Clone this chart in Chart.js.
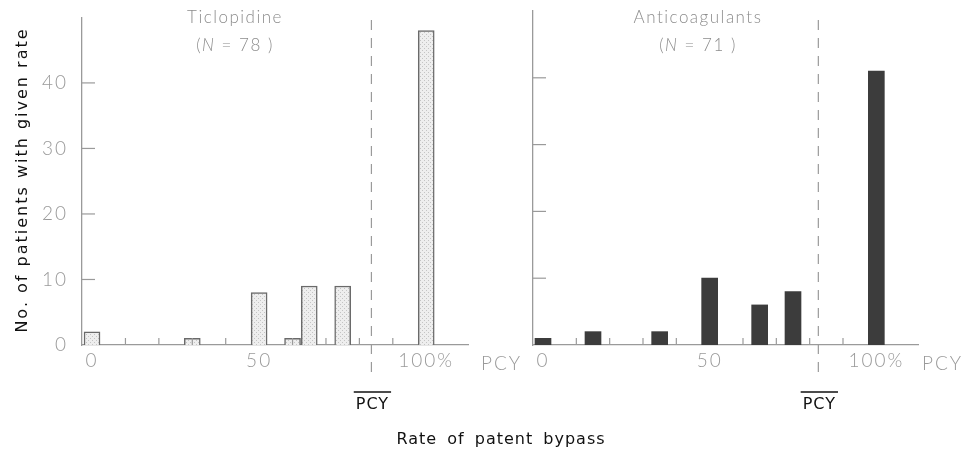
<!DOCTYPE html>
<html>
<head>
<meta charset="utf-8">
<script src="https://cdn.jsdelivr.net/npm/chart.js@4.4.0/dist/chart.umd.min.js"></script>
<style>
  html, body { margin: 0; padding: 0; background: #fff; }
  #wrap { position: relative; width: 962px; height: 451px; }
  canvas { position: absolute; left: 0; top: 0; }
</style>
</head>
<body>
<div id="wrap">
  <canvas id="leftChart" width="962" height="451"></canvas>
  <canvas id="rightChart" width="962" height="451"></canvas>
</div>
<script>
// Ticlopidine panel
const ticloRates = [0, 30, 50, 60, 65, 75, 100]
const ticloCounts = [2, 1, 8, 1, 9, 9, 48]
// Anticoagulant panel
const antiRates = [0, 15, 35, 50, 65, 75, 100]
const antiCounts = [1, 2, 2, 10, 6, 8, 41]
// mean PCY (dashed line) for each panel
const meanPCY = [83.6, 82.6]
const groupNames = ['Ticlopidine', 'Anticoagulants']
const groupN = [78, 71]

const yTicks = [0, 10, 20, 30, 40]
const xLabelVals = [0, 50, 100]
const xMinorTicks = [10, 20, 30, 40, 60, 70, 80, 90]

const axisGrey = '#9a9a9a'
const textGrey = '#8c8c8c'
const tickFont = { family: 'Lato', size: 19, weight: '300' }

function stipple() {
    const c = document.createElement('canvas')
    c.width = 4; c.height = 4
    const g = c.getContext('2d')
    g.fillStyle = '#eeeeee'
    g.fillRect(0, 0, 4, 4)
    g.fillStyle = '#c4c4c4'
    g.fillRect(0, 0, 1, 1)
    g.fillRect(2, 2, 1, 1)
    return g.createPattern(c, 'repeat')
}

// inward ticks, dashed mean line, panel titles and the extra labels
const decor = {
    id: 'decor',
    beforeDraw(chart) {
        chart.ctx.letterSpacing = '2px'
    },
    afterDraw(chart, args, o) {
        const ctx = chart.ctx
        const area = chart.chartArea
        const xs = chart.scales.x
        const ys = chart.scales.y
        ctx.save()
        ctx.strokeStyle = axisGrey
        ctx.lineWidth = 1.2
        yTicks.forEach(v => {
            if (v === 0) return
            const py = ys.getPixelForValue(v)
            ctx.beginPath(); ctx.moveTo(area.left, py); ctx.lineTo(area.left + 13, py); ctx.stroke()
        })
        xMinorTicks.forEach(v => {
            const px = xs.getPixelForValue(v)
            ctx.beginPath(); ctx.moveTo(px, area.bottom); ctx.lineTo(px, area.bottom - 7); ctx.stroke()
        })

        // mean line
        const mx = xs.getPixelForValue(o.mean)
        ctx.setLineDash([10, 8])
        ctx.beginPath(); ctx.moveTo(mx, 20); ctx.lineTo(mx, 377); ctx.stroke()
        ctx.setLineDash([])

        // PCY after 100%
        ctx.fillStyle = '#9a9a9a'
        ctx.font = '300 19px Lato'
        ctx.letterSpacing = '2px'
        ctx.textBaseline = 'middle'
        ctx.textAlign = 'left'
        ctx.fillText('PCY', o.pcyX, 364)

        // mean PCY label with overline
        ctx.fillStyle = '#111'
        ctx.font = '16px "DejaVu Sans"'
        ctx.letterSpacing = '1px'
        ctx.textAlign = 'center'
        ctx.fillText('PCY', mx + 1, 405)
        const w = ctx.measureText('PCY').width
        ctx.strokeStyle = '#111'
        ctx.lineWidth = 1.5
        ctx.beginPath(); ctx.moveTo(mx - w / 2 - 1, 392); ctx.lineTo(mx + w / 2 + 3, 392); ctx.stroke()

        // titles
        ctx.fillStyle = textGrey
        ctx.font = '300 17px Lato'
        ctx.letterSpacing = '1.5px'
        ctx.fillText(o.name, o.titleX, 18)
        const parts = [['(', '300 17px Lato'], ['N', 'italic 300 17px Lato'], [' = ' + o.n + ' )', '300 17px Lato']]
        let total = 0
        parts.forEach(p => { ctx.font = p[1]; total += ctx.measureText(p[0]).width })
        let x = o.titleX - total / 2
        ctx.textAlign = 'left'
        parts.forEach(p => { ctx.font = p[1]; ctx.fillText(p[0], x, 46); x += ctx.measureText(p[0]).width })

        // axis titles
        if (o.xTitle) {
            ctx.fillStyle = '#111'
            ctx.font = '16px "DejaVu Sans"'
            ctx.letterSpacing = '1px'
            ctx.wordSpacing = '4px'
            ctx.textAlign = 'center'
            ctx.fillText(o.xTitle, 501, 440)
            ctx.wordSpacing = '0px'
        }
        if (o.yTitle) {
            ctx.translate(23, 180)
            ctx.rotate(-Math.PI / 2)
            ctx.fillStyle = '#111'
            ctx.font = '16px "DejaVu Sans"'
            ctx.letterSpacing = '2px'
            ctx.textAlign = 'center'
            ctx.fillText(o.yTitle, 0, 0)
        }
        ctx.restore()
    }
}

function makeChart(id, rates, counts, opt) {
    const ctx = document.getElementById(id)
    return new Chart(ctx, {
        type: 'bar',
        data: {
            datasets: [{
                data: rates.map((r, i) => ({ x: r, y: counts[i] })),
                backgroundColor: opt.fill,
                borderColor: opt.border,
                borderWidth: opt.borderWidth,
                barThickness: 16
            }]
        },
        options: {
            responsive: false,
            animation: false,
            layout: { padding: opt.padding },
            plugins: {
                legend: { display: false },
                tooltip: { enabled: false },
                decor: opt.decor
            },
            scales: {
                x: {
                    type: 'linear',
                    offset: false,
                    min: -3,
                    max: 112.5,
                    afterFit: s => { s.height = 40 },
                    afterBuildTicks: s => { s.ticks = xLabelVals.map(v => ({ value: v })) },
                    grid: { display: false },
                    border: { color: axisGrey, width: 1.3 },
                    ticks: {
                        padding: -4,
                        color: '#9a9a9a',
                        font: tickFont,
                        callback: v => v === 100 ? '100%' : String(v)
                    }
                },
                y: {
                    min: 0,
                    max: 50,
                    afterFit: s => { s.width = opt.yWidth },
                    afterBuildTicks: s => { s.ticks = yTicks.map(v => ({ value: v })) },
                    grid: { display: false },
                    border: { color: axisGrey, width: 1.3 },
                    ticks: {
                        display: opt.yLabels,
                        padding: 6,
                        color: '#9a9a9a',
                        font: tickFont
                    }
                }
            }
        },
        plugins: [decor]
    })
}

makeChart('leftChart', ticloRates, ticloCounts, {
    fill: stipple(),
    border: '#6a6a6a',
    borderWidth: 1.5,
    padding: { left: 0, right: 494, top: 11, bottom: 66 },
    yWidth: 82,
    yLabels: true,
    decor: {
        mean: meanPCY[0], name: groupNames[0], n: groupN[0], titleX: 235, pcyX: 481,
        xTitle: 'Rate of patent bypass', yTitle: 'No. of patients with given rate'
    }
})

makeChart('rightChart', antiRates, antiCounts, {
    fill: '#3c3c3c',
    border: '#3c3c3c',
    borderWidth: 0,
    padding: { left: 493, right: 44, top: 11, bottom: 66 },
    yWidth: 40,
    yLabels: false,
    decor: { mean: meanPCY[1], name: groupNames[1], n: groupN[1], titleX: 698, pcyX: 922 }
})
</script>
</body>
</html>
